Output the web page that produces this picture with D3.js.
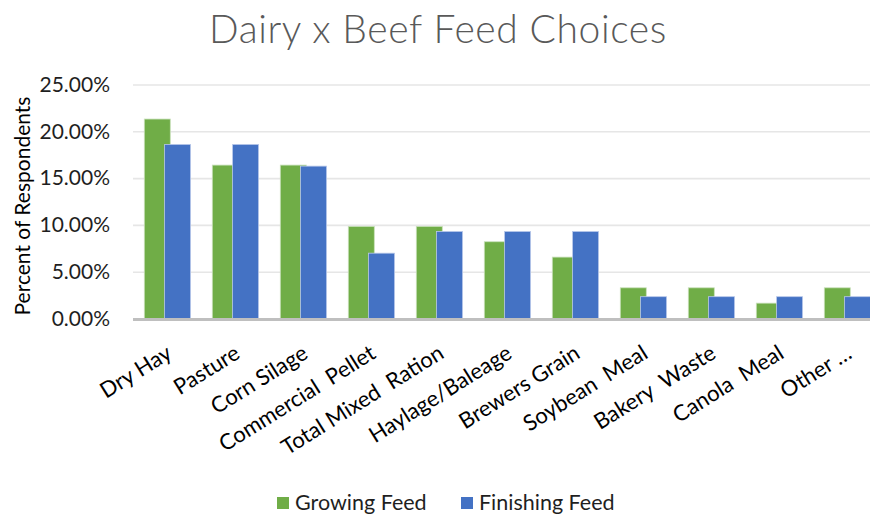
<!DOCTYPE html>
<html>
<head>
<meta charset="utf-8">
<script src="https://cdn.jsdelivr.net/npm/d3@7"></script>
<style>
  html, body { margin: 0; padding: 0; background: #fff; }
  svg { display: block; font-family: Lato, "Open Sans", sans-serif; }
</style>
</head>
<body>
<svg id="chart" width="870" height="514"></svg>
<script>
// Feed choices reported by dairy x beef producers
const categories = ["Dry Hay", "Pasture", "Corn Silage", "Commercial  Pellet", "Total Mixed  Ration",
  "Haylage/Baleage", "Brewers Grain", "Soybean  Meal", "Bakery  Waste", "Canola  Meal", "Other \u2026"];
const growingFeed = [0.2131, 0.1639, 0.1639, 0.0984, 0.0984, 0.0820, 0.0656, 0.0328, 0.0328, 0.0164, 0.0328];
const finishingFeed = [0.1860, 0.1860, 0.1628, 0.0698, 0.0930, 0.0930, 0.0930, 0.0233, 0.0233, 0.0233, 0.0233];
const seriesNames = ["Growing Feed", "Finishing Feed"];
const seriesColors = ["#70AD47", "#4472C4"];
const yTicks = [0, 0.05, 0.10, 0.15, 0.20, 0.25];

const svg = d3.select("#chart");
const W = 870, H = 514;

const x = d3.scaleBand().domain(categories).range([133.3, 881.3]).paddingInner(0).paddingOuter(0);
const y = d3.scaleLinear().domain([0, 0.25]).range([318.5, 84.5]);

const barW = 26, greenOff = 11, blueOff = 31.3;

// Title
svg.append("text")
  .attr("x", 438).attr("y", 43)
  .attr("text-anchor", "middle")
  .attr("font-size", 39).attr("font-weight", 300)
  .attr("letter-spacing", 0.6)
  .attr("fill", "#595959")
  .text("Dairy x Beef Feed Choices");

// Gridlines
const yAxisGrid = d3.axisLeft(y).tickValues(yTicks.slice(1)).tickSize(-(W - 133)).tickFormat("");
svg.append("g")
  .attr("transform", "translate(133,0)")
  .call(yAxisGrid)
  .call(g => g.select(".domain").remove())
  .call(g => g.selectAll("line").attr("stroke", "#e6e6e6").attr("stroke-width", 1.6));

// Y tick labels
const yAxis = d3.axisLeft(y).tickValues(yTicks).tickSize(0).tickPadding(0)
  .tickFormat(d => (d * 100).toFixed(2) + "%");
svg.append("g")
  .attr("transform", "translate(110,0)")
  .call(yAxis)
  .call(g => g.select(".domain").remove())
  .call(g => g.selectAll("text").attr("font-size", 21).attr("fill", "#1f1f1f")
    .attr("font-family", "Lato, 'Open Sans', sans-serif"));

// Y axis title
svg.append("text")
  .attr("transform", "translate(30,206) rotate(-90)")
  .attr("text-anchor", "middle")
  .attr("font-size", 21)
  .attr("fill", "#000")
  .text("Percent of Respondents");

// Bars
const groups = svg.append("g").selectAll("g")
  .data(categories)
  .join("g")
  .attr("transform", d => `translate(${x(d)},0)`);

groups.append("rect")
  .attr("x", greenOff)
  .attr("width", barW)
  .attr("y", (d, i) => y(growingFeed[i]))
  .attr("height", (d, i) => y(0) - y(growingFeed[i]))
  .attr("fill", seriesColors[0])
  .attr("stroke", "#c9e0bb").attr("stroke-width", 0.8);

groups.append("rect")
  .attr("x", blueOff)
  .attr("width", barW)
  .attr("y", (d, i) => y(finishingFeed[i]))
  .attr("height", (d, i) => y(0) - y(finishingFeed[i]))
  .attr("fill", seriesColors[1])
  .attr("stroke", "#b9c9ea").attr("stroke-width", 0.8);

// X axis baseline
svg.append("line")
  .attr("x1", 133).attr("x2", W)
  .attr("y1", 319.5).attr("y2", 319.5)
  .attr("stroke", "#bfbfbf").attr("stroke-width", 3);

// X category labels
svg.append("g").selectAll("text")
  .data(categories)
  .join("text")
  .attr("transform", d => `translate(${x(d) + x.bandwidth() / 2 + 6},357) rotate(-32)`)
  .attr("text-anchor", "end")
  .attr("font-size", 22)
  .attr("fill", "#000")
  .attr("xml:space", "preserve")
  .style("white-space", "pre")
  .text(d => d);

// Legend
const legend = svg.append("g");
const legendItems = [{ name: seriesNames[0], color: seriesColors[0], x: 277 },
                     { name: seriesNames[1], color: seriesColors[1], x: 461 }];
legendItems.forEach(it => {
  legend.append("rect").attr("x", it.x).attr("y", 497).attr("width", 12).attr("height", 12).attr("fill", it.color);
  legend.append("text").attr("x", it.x + 18).attr("y", 510)
    .attr("font-size", 21.5).attr("fill", "#1f1f1f").text(it.name);
});
</script>
</body>
</html>
